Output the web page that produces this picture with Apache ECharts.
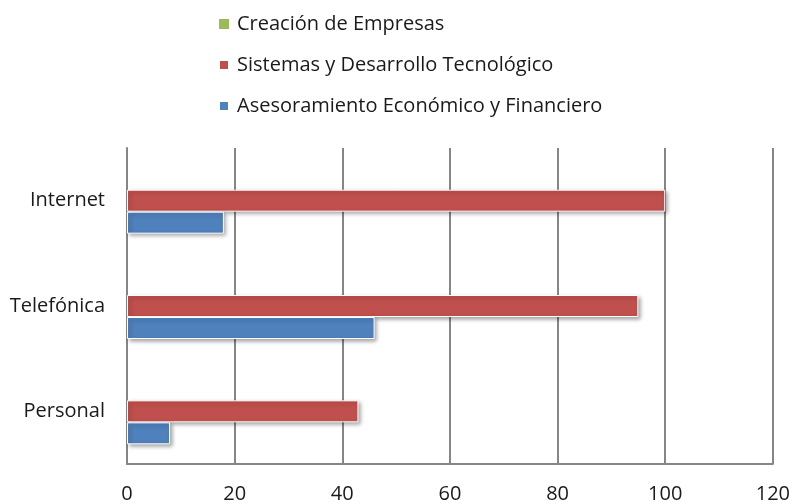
<!DOCTYPE html>
<html>
<head>
<meta charset="utf-8">
<script src="https://cdn.jsdelivr.net/npm/echarts@6/dist/echarts.min.js"></script>
<style>
  html, body { margin: 0; padding: 0; background: #fff; }
  #main { width: 793px; height: 504px; }
</style>
</head>
<body>
<div id="main"></div>
<script>
// 数据
var categories = ['Personal', 'Telefónica', 'Internet'];
var seriesNames = ['Creación de Empresas', 'Sistemas y Desarrollo Tecnológico', 'Asesoramiento Económico y Financiero'];
var creacion = [0, 0, 0];
var sistemas = [43, 95, 100];
var asesoramiento = [8, 46, 18];
var xTicks = [0, 20, 40, 60, 80, 100, 120];

var font = 'Open Sans';
var barStyle = function (color) {
  return {
    color: color,
    borderColor: '#ffffff',
    borderWidth: 1,
    shadowColor: 'rgba(0,0,0,0.35)',
    shadowBlur: 4,
    shadowOffsetX: 2,
    shadowOffsetY: 2
  };
};

var myChart = echarts.init(document.getElementById('main'));

var option = {
  animation: false,
  textStyle: { fontFamily: font },
  legend: {
    orient: 'vertical',
    left: 213,
    top: 9,
    itemWidth: 10,
    itemHeight: 10,
    itemGap: 21,
    icon: 'rect',
    textStyle: { fontSize: 20, color: '#1a1a1a', fontFamily: font, padding: [0, 0, 0, 3] },
    data: seriesNames
  },
  grid: { left: 127, right: 19, top: 148, bottom: 39 },
  xAxis: {
    type: 'value',
    min: xTicks[0],
    max: xTicks[xTicks.length - 1],
    interval: 20,
    axisLine: { show: true, lineStyle: { color: '#868686', width: 2 } },
    axisTick: { show: false },
    axisLabel: { fontSize: 20, color: '#1a1a1a', margin: 20, fontFamily: font },
    splitLine: { show: true, lineStyle: { color: '#868686', width: 2 } }
  },
  yAxis: {
    type: 'category',
    data: categories,
    axisLine: { show: true, lineStyle: { color: '#868686', width: 2 } },
    axisTick: { show: false },
    axisLabel: { fontSize: 20, color: '#1a1a1a', margin: 22, fontFamily: font },
    splitLine: { show: false }
  },
  series: [
    { name: seriesNames[0], type: 'bar', data: creacion, barWidth: 22, barGap: '0%', itemStyle: { color: '#9BBB59', borderWidth: 0 } },
    { name: seriesNames[1], type: 'bar', data: sistemas, barWidth: 22, barGap: '0%', itemStyle: barStyle('#C0504D') },
    { name: seriesNames[2], type: 'bar', data: asesoramiento, barWidth: 22, barGap: '0%', itemStyle: barStyle('#4F81BD') }
  ]
};

myChart.setOption(option);
</script>
</body>
</html>
